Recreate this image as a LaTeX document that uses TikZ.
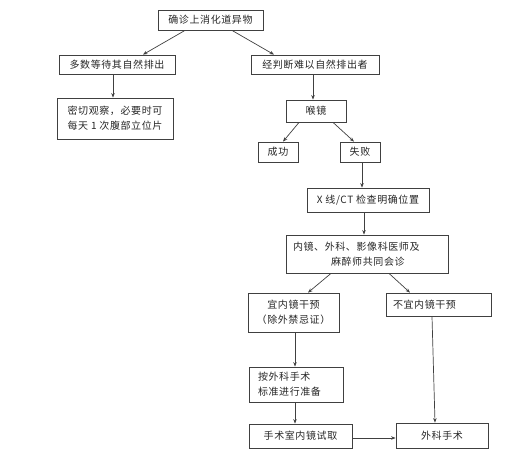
\documentclass[tikz,border=0pt]{standalone}
\usepackage{fontspec}
\setmainfont{Noto Sans CJK SC}[LetterSpace=6]
\usetikzlibrary{arrows.meta}
\begin{document}
\begin{tikzpicture}[x=1pt,y=-1pt,
  box/.style={draw=black!75, line width=0.8pt, rectangle, inner sep=0pt, align=center,
    font=\fontsize{10}{15}\selectfont, text=black!85},
  arr/.style={draw=black!75, line width=0.7pt, -{Stealth[length=4.5pt,width=3.5pt]}}]
\useasboundingbox (0,0) rectangle (512,463);
\node[box, minimum width=105, minimum height=20] (b1) at (210.5,20) {确诊上消化道异物};
\node[box, minimum width=116, minimum height=19] (b2) at (117,64.5) {多数等待其自然排出};
\node[box, minimum width=128, minimum height=19] (b3) at (315,64.5) {经判断难以自然排出者};
\node[box, minimum width=116, minimum height=41] (b4) at (115,118.5) {密切观察，必要时可\\每天 1 次腹部立位片};
\node[box, minimum width=60, minimum height=22] (hj) at (316,111) {喉镜};
\node[box, minimum width=40, minimum height=20] (cg) at (278,152) {成功};
\node[box, minimum width=40, minimum height=20] (sb) at (360,152) {失败};
\node[box, minimum width=122, minimum height=24] (xx) at (368,200) {X 线/CT 检查明确位置};
\node[box, minimum width=162, minimum height=38, text width=148pt, align=left] (hz) at (367,254) {内镜、外科、影像科医师及\\\hspace*{38pt}麻醉师共同会诊};
\node[box, minimum width=91, minimum height=39] (yi) at (293.5,312.5) {宜内镜干预\\（除外禁忌证）};
\node[box, minimum width=105, minimum height=23, text width=91pt, align=left] (by) at (438.5,304.5) {不宜内镜干预};
\node[box, minimum width=94, minimum height=35, text width=76pt, align=left] (aw) at (296,384.5) {按外科手术\\标准进行准备};
\node[box, minimum width=103, minimum height=24] (ss) at (300.5,436) {手术室内镜试取};
\node[box, minimum width=92, minimum height=25] (wk) at (442,435.5) {外科手术};
\draw[arr] ([xshift=-25.5pt]b1.south) -- ([xshift=26pt]b2.north);
\draw[arr] ([xshift=21.5pt]b1.south) -- ([xshift=-41pt]b3.north);
\draw[arr] ([xshift=-4pt]b2.south) -- ([xshift=-2pt]b4.north);
\draw[arr] ([xshift=-2pt]b3.south) -- ([xshift=-3pt]hj.north);
\draw[arr] ([xshift=-17pt]hj.south) -- ([xshift=5pt]cg.north);
\draw[arr] ([xshift=17pt]hj.south) -- ([xshift=-6pt]sb.north);
\draw[arr] ([xshift=2pt]sb.south) -- ([xshift=-6pt]xx.north);
\draw[arr] ([xshift=-4pt]xx.south) -- ([xshift=-3pt]hz.north);
\draw[arr] ([xshift=-36pt]hz.south) -- ([xshift=14.5pt]yi.north);
\draw[arr] ([xshift=22pt]hz.south) -- ([xshift=-28.5pt]by.north);
\draw[arr] ([xshift=1.5pt]yi.south) -- ([xshift=-1pt]aw.north);
\draw[arr] ([xshift=-1pt]aw.south) -- ([xshift=-5.5pt]ss.north);
\draw[arr] ([xshift=-6.5pt]by.south) -- ([xshift=-7pt]wk.north);
\draw[arr] ([yshift=-2pt]ss.east) -- ([yshift=-2.5pt]wk.west);
\end{tikzpicture}
\end{document}
